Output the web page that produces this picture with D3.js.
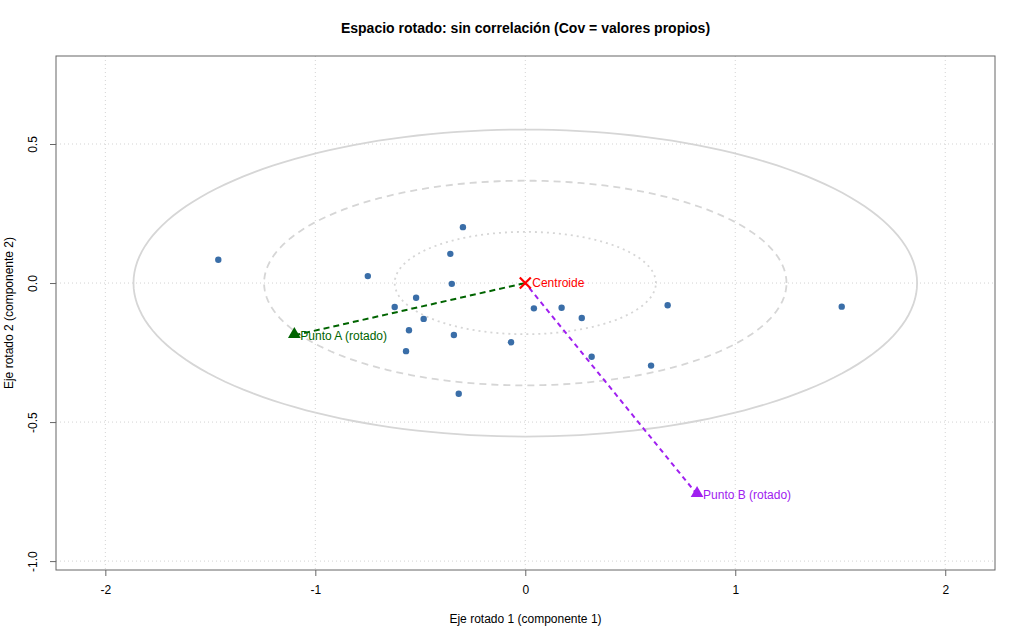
<!DOCTYPE html>
<html>
<head>
<meta charset="utf-8">
<script src="https://cdn.jsdelivr.net/npm/d3@7"></script>
<style>
  body { margin: 0; background: #fff; }
  text { font-family: 'Liberation Sans', Arial, sans-serif; }
</style>
</head>
<body>
<div class="chart"></div>
<script>
// observaciones en el espacio rotado
const compX = [-1.462, -0.297, -0.357, -0.350, -0.750, -0.520, -0.622, -0.484, -0.554, -0.340,
  -0.068, -0.568, -0.317, 0.041, 0.173, 0.269, 0.678, 1.507, 0.316, 0.599];
const compY = [0.084, 0.201, 0.105, -0.003, 0.025, -0.053, -0.086, -0.129, -0.170, -0.187,
  -0.213, -0.245, -0.398, -0.091, -0.089, -0.126, -0.080, -0.085, -0.265, -0.297];

// desviaciones por componente (raiz de los valores propios)
const sdComp = [0.622, 0.184];
const ellipseK = [1, 2, 3];
const ellipseDash = ['2,4', '7,5', null];

const puntos = [
  { name: 'Punto A (rotado)', x: -1.100, y: -0.188, color: '#006400', dash: '6,4' },
  { name: 'Punto B (rotado)', x: 0.818, y: -0.760, color: '#a020f0', dash: '5,4' }
];

const xTicks = [-2, -1, 0, 1, 2];
const yTicks = [0.5, 0.0, -0.5, -1.0];

const width = 1024;
const height = 640;
const mLeft = 56, mRight = 995, mTop = 56, mBottom = 570;

const x = d3.scaleLinear().domain([-2.235, 2.237]).range([mLeft, mRight]);
const y = d3.scaleLinear().domain([-1.032, 0.8165]).range([mBottom, mTop]);

const svg = d3
  .select('.chart')
  .append('svg')
  .attr('width', width)
  .attr('height', height);

// grid
svg.append('g')
  .selectAll('line')
  .data(xTicks)
  .enter()
  .append('line')
  .attr('x1', (d) => x(d)).attr('x2', (d) => x(d))
  .attr('y1', mTop).attr('y2', mBottom)
  .attr('stroke', '#d3d3d3').attr('stroke-width', 1).attr('stroke-dasharray', '1,3');

svg.append('g')
  .selectAll('line')
  .data(yTicks)
  .enter()
  .append('line')
  .attr('x1', mLeft).attr('x2', mRight)
  .attr('y1', (d) => y(d)).attr('y2', (d) => y(d))
  .attr('stroke', '#d3d3d3').attr('stroke-width', 1).attr('stroke-dasharray', '1,3');

// elipses 1, 2 y 3 desviaciones
const line = d3.line().x((d) => x(d[0])).y((d) => y(d[1]));
ellipseK.forEach((k, i) => {
  const pts = d3.range(0, 361, 2).map((deg) => {
    const t = (deg * Math.PI) / 180;
    return [k * sdComp[0] * Math.cos(t), k * sdComp[1] * Math.sin(t)];
  });
  svg.append('path')
    .attr('d', line(pts))
    .attr('fill', 'none')
    .attr('stroke', '#d6d6d6')
    .attr('stroke-width', 1.8)
    .attr('stroke-dasharray', ellipseDash[i]);
});

// segmentos al centroide
svg.append('g')
  .selectAll('line')
  .data(puntos)
  .enter()
  .append('line')
  .attr('x1', (d) => x(d.x)).attr('y1', (d) => y(d.y))
  .attr('x2', x(0)).attr('y2', y(0))
  .attr('stroke', (d) => d.color)
  .attr('stroke-width', 2)
  .attr('stroke-dasharray', (d) => d.dash);

// observaciones
svg.append('g')
  .selectAll('circle')
  .data(compX)
  .enter()
  .append('circle')
  .attr('cx', (d) => x(d))
  .attr('cy', (d, i) => y(compY[i]))
  .attr('r', 3.2)
  .attr('fill', '#3a6ea8');

// puntos A y B
const tri = d3.symbol().type(d3.symbolTriangle).size(70);
svg.append('g')
  .selectAll('path')
  .data(puntos)
  .enter()
  .append('path')
  .attr('d', tri)
  .attr('transform', (d) => `translate(${x(d.x)},${y(d.y) - 1})`)
  .attr('fill', (d) => d.color);

svg.append('g')
  .selectAll('text')
  .data(puntos)
  .enter()
  .append('text')
  .attr('x', (d) => x(d.x) + 6)
  .attr('y', (d) => y(d.y))
  .attr('dy', '0.35em')
  .attr('font-size', 12)
  .attr('fill', (d) => d.color)
  .text((d) => d.name);

// centroide
const cx = x(0), cy = y(0), s = 5.5;
svg.append('path')
  .attr('d', `M${cx - s},${cy - s}L${cx + s},${cy + s}M${cx - s},${cy + s}L${cx + s},${cy - s}`)
  .attr('stroke', '#ff0000')
  .attr('stroke-width', 2.2);
svg.append('text')
  .attr('x', cx + 7)
  .attr('y', cy)
  .attr('dy', '0.35em')
  .attr('font-size', 12)
  .attr('fill', '#ff0000')
  .text('Centroide');

// caja y ejes
svg.append('rect')
  .attr('x', mLeft).attr('y', mTop)
  .attr('width', mRight - mLeft).attr('height', mBottom - mTop)
  .attr('fill', 'none').attr('stroke', '#666').attr('stroke-width', 1);

const xAxis = svg.append('g')
  .attr('transform', `translate(0,${mBottom})`)
  .call(d3.axisBottom(x).tickValues(xTicks).tickSize(6).tickPadding(9).tickFormat(d3.format('d')));
const yAxis = svg.append('g')
  .attr('transform', `translate(${mLeft},0)`)
  .call(d3.axisLeft(y).tickValues(yTicks).tickSize(6).tickPadding(10).tickFormat(d3.format('.1f')));

[xAxis, yAxis].forEach((g) => {
  g.select('.domain').remove();
  g.selectAll('.tick line').attr('stroke', '#666');
  g.selectAll('.tick text')
    .attr('font-size', 12)
    .attr('fill', '#000')
    .style('font-family', "'Liberation Sans', Arial, sans-serif");
});
xAxis.selectAll('.tick text').text((d) => d3.format('d')(d).replace('−', '-'));
yAxis.selectAll('.tick text')
  .text((d) => d3.format('.1f')(d).replace('−', '-'))
  .attr('text-anchor', 'middle')
  .attr('dy', null)
  .attr('x', null)
  .attr('transform', 'translate(-19,0) rotate(-90)');

// titulos
svg.append('text')
  .attr('x', (mLeft + mRight) / 2)
  .attr('y', 33)
  .attr('text-anchor', 'middle')
  .attr('font-size', 14)
  .attr('font-weight', 'bold')
  .text('Espacio rotado: sin correlación (Cov = valores propios)');

svg.append('text')
  .attr('x', (mLeft + mRight) / 2)
  .attr('y', 623)
  .attr('text-anchor', 'middle')
  .attr('font-size', 12)
  .text('Eje rotado 1 (componente 1)');

svg.append('text')
  .attr('transform', `translate(13,${(mTop + mBottom) / 2}) rotate(-90)`)
  .attr('text-anchor', 'middle')
  .attr('font-size', 12)
  .text('Eje rotado 2 (componente 2)');
</script>
</body>
</html>
